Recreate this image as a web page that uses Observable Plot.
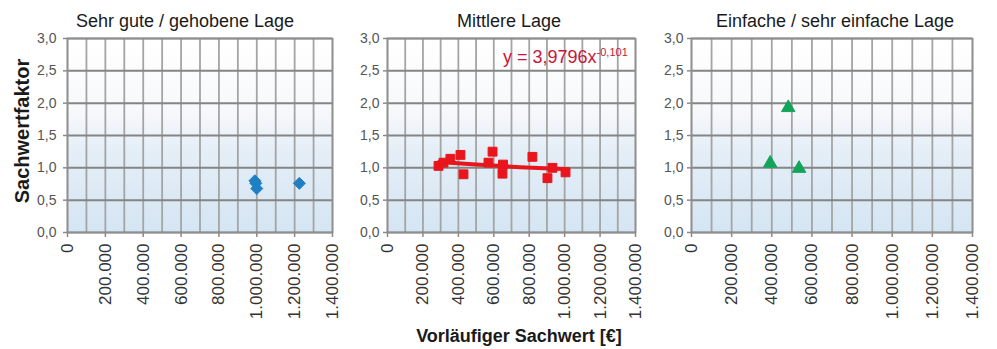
<!DOCTYPE html>
<html>
<head>
<meta charset="utf-8">
<script src="https://cdn.jsdelivr.net/npm/d3@7"></script>
<script src="https://cdn.jsdelivr.net/npm/@observablehq/plot@0.6"></script>
<style>
  html, body { margin: 0; padding: 0; background: #fff; }
  #wrap { position: relative; width: 997px; height: 349px; overflow: hidden; font-family: "Liberation Sans", Arial, sans-serif; }
  .lbl { position: absolute; white-space: nowrap; line-height: 1; color: #1a1a1a; }
</style>
</head>
<body>
<div id="wrap"></div>
<script>
// ---- data ----
const xTicks = [0, 200000, 400000, 600000, 800000, 1000000, 1200000, 1400000];
const xGrid = [0, 100000, 200000, 300000, 400000, 500000, 600000, 700000, 800000, 900000, 1000000, 1100000, 1200000, 1300000, 1400000];
const yTicks = [0, 0.5, 1.0, 1.5, 2.0, 2.5, 3.0];

const panelTitles = ["Sehr gute / gehobene Lage", "Mittlere Lage", "Einfache / sehr einfache Lage"];

const sehrGuteX = [990000, 995000, 1000000, 1225000];
const sehrGuteY = [0.80, 0.76, 0.68, 0.76];

const mittlereX = [288000, 316000, 355000, 412000, 429000, 570000, 593000, 649000, 652000, 818000, 903000, 931000, 1005000];
const mittlereY = [1.03, 1.08, 1.14, 1.20, 0.90, 1.08, 1.25, 0.91, 1.05, 1.17, 0.84, 1.00, 0.93];

const trendX = [290000, 500000, 750000, 1020000];
const trendY = [1.09, 1.05, 1.01, 0.98];

const einfacheX = [392000, 482000, 536000];
const einfacheY = [1.07, 1.93, 0.99];

const yLabel = "Sachwertfaktor";
const xLabel = "Vorläufiger Sachwert [€]";
const eqMain = "y = 3,9796x";
const eqExp = "-0,101";

// ---- helpers ----
const toPts = (xs, ys) => xs.map((x, i) => ({x, y: ys[i]}));
const fmtX = v => v === 0 ? "0" : d3.format(",")(v).replace(/,/g, ".");
const fmtY = v => d3.format(".1f")(v).replace(".", ",");

const wrap = document.getElementById("wrap");
const NS = "http://www.w3.org/2000/svg";

function panel({id, left, width, ml, mr, pts, symbol, color, r, yPad, extra = []}) {
  const svg = Plot.plot({
    width, height: 349,
    marginTop: 38, marginBottom: 117, marginLeft: ml, marginRight: mr,
    x: {domain: [0, 1400000], axis: null},
    y: {domain: [0, 3], axis: null},
    style: {background: "transparent", fontFamily: "'Liberation Sans', Arial, sans-serif", overflow: "visible",
            position: "absolute", left: left + "px", top: "0px"},
    marks: [
      Plot.frame({fill: `url(#${id})`, stroke: null}),
      Plot.gridX({ticks: xGrid, stroke: "#a4a4a4", strokeOpacity: 1, strokeWidth: 1.8}),
      Plot.gridY({ticks: yTicks, stroke: "#858585", strokeOpacity: 1, strokeWidth: 2}),
      Plot.frame({stroke: "#8f8f8f", strokeWidth: 1.6}),
      Plot.axisX({ticks: xTicks, tickFormat: fmtX, tickRotate: -90, fontSize: 17, tickSize: 5, tickPadding: 6,
                  label: null, fill: "#333", stroke: "#8a8a8a", strokeWidth: 1.5}),
      Plot.axisY({ticks: yTicks, tickFormat: fmtY, fontSize: 14, tickSize: 4, tickPadding: yPad,
                  label: null, fill: "#555", stroke: "#8a8a8a", strokeWidth: 1.5}),
      ...extra,
      Plot.dot(pts, {x: "x", y: "y", symbol, fill: color, stroke: color, strokeWidth: 1, r})
    ]
  });
  const defs = document.createElementNS(NS, "defs");
  defs.innerHTML = `<linearGradient id="${id}" x1="0" y1="0" x2="0" y2="1">
      <stop offset="0" stop-color="#ffffff"/>
      <stop offset="0.38" stop-color="#f7f8fb"/>
      <stop offset="0.58" stop-color="#e4eef7"/>
      <stop offset="1" stop-color="#d5e5f3"/>
    </linearGradient>`;
  svg.insertBefore(defs, svg.firstChild);
  wrap.appendChild(svg);
}

panel({id: "g1", left: 0, width: 350, ml: 67, mr: 18, pts: toPts(sehrGuteX, sehrGuteY),
       symbol: "diamond2", color: "#1f7fc4", r: 5.4, yPad: 7});
panel({id: "g2", left: 350, width: 310, ml: 37, mr: 25, pts: toPts(mittlereX, mittlereY),
       symbol: "square", color: "#e8161c", r: 5, yPad: 4,
       extra: [Plot.line(toPts(trendX, trendY), {x: "x", y: "y", stroke: "#e8161c", strokeWidth: 4})]});
panel({id: "g3", left: 660, width: 337, ml: 31, mr: 25, pts: toPts(einfacheX, einfacheY),
       symbol: "triangle", color: "#13a45c", r: 5, yPad: 4});

// ---- text labels ----
function addLabel(text, style) {
  const d = document.createElement("div");
  d.className = "lbl";
  d.textContent = text;
  Object.assign(d.style, style);
  wrap.appendChild(d);
  return d;
}
const titleX = [185, 509, 835];
panelTitles.forEach((t, i) => addLabel(t, {left: titleX[i] + "px", top: "12px", fontSize: "18px", transform: "translateX(-50%)"}));

addLabel(yLabel, {left: "22px", top: "131px", fontSize: "20px", fontWeight: "bold", transform: "translate(-50%,-50%) rotate(-90deg)"});
addLabel(xLabel, {left: "519px", top: "327px", fontSize: "18px", fontWeight: "bold", transform: "translateX(-50%)"});

const eq = addLabel(eqMain, {left: "503px", top: "48px", fontSize: "18px", color: "#c8163a"});
const sup = document.createElement("span");
sup.textContent = eqExp;
Object.assign(sup.style, {fontSize: "11px", verticalAlign: "top", position: "relative", top: "-1px"});
eq.appendChild(sup);
</script>
</body>
</html>
